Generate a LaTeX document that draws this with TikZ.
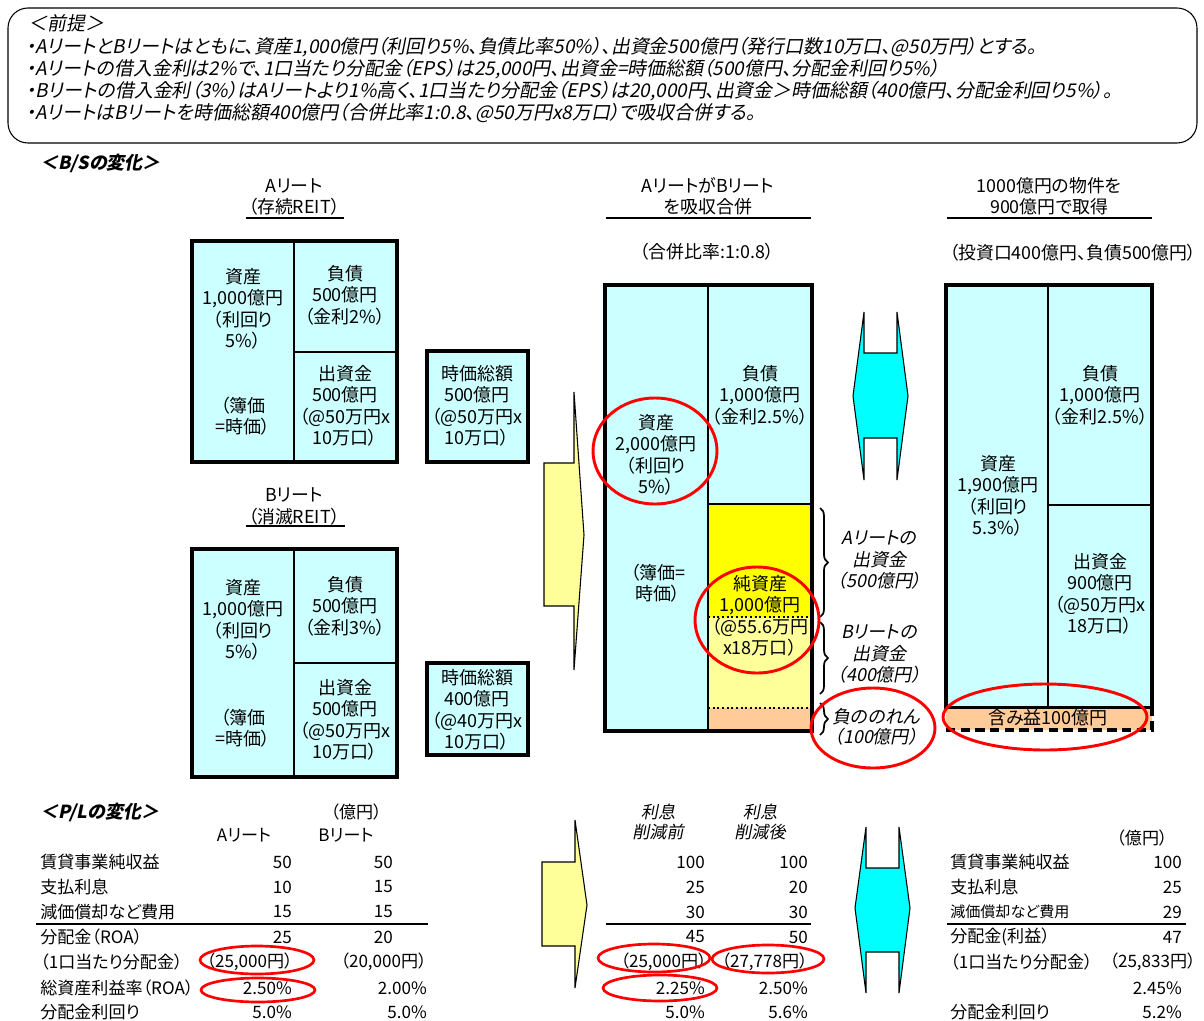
\documentclass[tikz,border=0pt]{standalone}
\usepackage{fontspec}
\setmainfont{Noto Sans CJK JP}[RawFeature=+palt]
\newfontfamily\jpit{Noto Sans CJK JP}[FakeSlant=0.2,RawFeature=+palt]
\usetikzlibrary{decorations.pathreplacing}
\definecolor{lcyan}{HTML}{CCFFFF}
\definecolor{acyan}{HTML}{00FFFF}
\definecolor{yel}{HTML}{FFFF00}
\definecolor{lyel}{HTML}{FFFF99}
\definecolor{peach}{HTML}{FFCC99}
\definecolor{ered}{HTML}{FF0000}
\newcommand\fBS{\fontsize{13.5}{16.1}\selectfont}
\newcommand\fPL{\fontsize{12.8}{15.5}\selectfont}
\newcommand\fTT{\fontsize{13.4}{16.5}\selectfont}
\newcommand\fTOP{\fontsize{14.2}{16}\selectfont\jpit}
\begin{document}
\begin{tikzpicture}[x=0.75pt,y=-0.75pt,
  bs/.style={align=center,font=\fBS,inner sep=0pt},
  bsi/.style={align=center,font=\fBS\jpit,inner sep=0pt},
  tt/.style={align=center,font=\fTT,inner sep=0pt},
  tl/.style={anchor=west,font=\fTOP,inner sep=0pt},
  hd/.style={anchor=west,font=\fBS\jpit\bfseries,inner sep=0pt},
  pl/.style={anchor=west,font=\fPL,inner sep=0pt},
  pr/.style={anchor=east,font=\fPL,inner sep=0pt},
  outerb/.style={line width=3pt},
  innerb/.style={line width=1.5pt},
  redring/.style={draw=ered,line width=2.2pt},
  brc/.style={decorate,decoration={brace,amplitude=6pt},line width=1.3pt},
  yarrow/.style={fill=lyel,draw=black,line width=0.8pt},
  carrow/.style={fill=acyan,draw=black,line width=0.8pt},
  hline/.style={line width=2pt}
]
\useasboundingbox (0,0) rectangle (1204,1021);

% ---------- premise box ----------
\draw[line width=0.8pt,rounded corners=15pt] (8,8) rectangle (1197,143);
\node[tl] (p0) at (28,23) {＜前提＞};
\node[tl] (p1) at (26,47) {・AリートとBリートはともに、資産1,000億円（利回り5\%、負債比率50\%）、出資金500億円（発行口数10万口、@50万円）とする。};
\node[tl] (p2) at (26,69) {・Aリートの借入金利は2\%で、1口当たり分配金（EPS）は25,000円、出資金=時価総額（500億円、分配金利回り5\%）};
\node[tl] (p3) at (26,91) {・Bリートの借入金利（3\%）はAリートより1\%高く、1口当たり分配金（EPS）は20,000円、出資金＞時価総額（400億円、分配金利回り5\%）。};
\node[tl] (p4) at (26,113) {・AリートはBリートを時価総額400億円（合併比率1:0.8、@50万円x8万口）で吸収合併する。};

% ---------- headings ----------
\node[hd] (hbs) at (40,163) {＜B/Sの変化＞};
\node[hd] (hpl) at (40,812) {＜P/Lの変化＞};

% ---------- left titles ----------
\node[tt] (ta1) at (294,186) {Aリート};
\node[tt] (ta2) at (294,207) {（存続REIT）};
\draw[line width=1pt] (246,218) -- (344,218);
\node[tt] (tb1) at (294,495) {Bリート};
\node[tt] (tb2) at (294,517) {（消滅REIT）};
\draw[line width=1pt] (246,526) -- (345,526);

% ---------- A reit B/S ----------
\fill[lcyan] (192,241) rectangle (397,462);
\draw[innerb] (294,241) -- (294,462);
\draw[innerb] (294,352) -- (397,352);
\draw[outerb] (192,241) rectangle (397,462);
\node[bs] (aas) at (243,309) {資産\\1,000億円\\（利回り\\5\%）};
\node[bs] (aab) at (243,416) {（簿価\\=時価）};
\node[bs] (ali) at (345,295) {負債\\500億円\\（金利2\%）};
\node[bs] (aeq) at (345,406) {出資金\\500億円\\（@50万円x\\10万口）};
\fill[lcyan] (427,351) rectangle (528,462);
\draw[outerb] (427,351) rectangle (528,462);
\node[bs] (amc) at (477,406) {時価総額\\500億円\\（@50万円x\\10万口）};

% ---------- B reit B/S ----------
\fill[lcyan] (192,549) rectangle (397,777);
\draw[innerb] (294,549) -- (294,777);
\draw[innerb] (294,663) -- (397,663);
\draw[outerb] (192,549) rectangle (397,777);
\node[bs] (bas) at (243,620) {資産\\1,000億円\\（利回り\\5\%）};
\node[bs] (bab) at (243,728) {（簿価\\=時価）};
\node[bs] (bli) at (345,606) {負債\\500億円\\（金利3\%）};
\node[bs] (beq) at (345,720) {出資金\\500億円\\（@50万円x\\10万口）};
\fill[lcyan] (427,663) rectangle (528,755);
\draw[outerb] (427,663) rectangle (528,755);
\node[bs] (bmc) at (477,710) {時価総額\\400億円\\（@40万円x\\10万口）};

% ---------- yellow arrows ----------
\draw[yarrow] (544,463) -- (574,463) -- (574,392) -- (584,535) -- (574,670) -- (574,606) -- (544,606) -- cycle;
\draw[yarrow] (542,862) -- (575,862) -- (575,820) -- (587,905) -- (575,988) -- (575,946) -- (542,946) -- cycle;

% ---------- merged B/S ----------
\node[tt] (tm1) at (708,185) {AリートがBリート};
\node[tt] (tm2) at (708,207) {を吸収合併};
\draw[line width=1.5pt] (606,218) -- (811,218);
\node[tt] (tm3) at (707,252) {（合併比率:1:0.8）};
\fill[lcyan] (605,285) rectangle (708,731);
\fill[lcyan] (708,285) rectangle (812,504);
\fill[yel] (708,504) rectangle (812,617);
\fill[lyel] (708,617) rectangle (812,708);
\fill[peach] (708,708) rectangle (812,731);
\draw[innerb] (708,285) -- (708,731);
\draw[innerb] (708,504) -- (812,504);
\draw[line width=1.5pt,dotted] (708,617) -- (812,617);
\draw[line width=1.5pt,dotted] (708,708) -- (812,708);
\draw[outerb] (605,285) rectangle (812,731);
\node[bs] (mas) at (656,455) {資産\\2,000億円\\（利回り\\5\%）};
\node[bs] (mab) at (658,583) {（簿価=\\時価）};
\node[bs] (mli) at (760,395) {負債\\1,000億円\\（金利2.5\%）};
\node[bs] (mna) at (760,616) {純資産\\1,000億円\\（@55.6万円\\x18万口）};
\draw[brc] (820,508) -- (820,617);
\draw[brc] (820,622) -- (820,694);
\draw[brc] (820,703) -- (820,735);
\node[bsi] (ba1) at (879,560) {Aリートの\\出資金\\（500億円）};
\node[bsi] (ba2) at (879,654) {Bリートの\\出資金\\（400億円）};
\node[bsi,font=\fontsize{13.5}{15}\selectfont\jpit] (ba3) at (876,727) {負ののれん\\（100億円）};
\draw[redring] (655,451) ellipse [x radius=62,y radius=53];
\draw[redring] (757,620) ellipse [x radius=62,y radius=53];
\draw[redring] (873,728) ellipse [x radius=62,y radius=40];

% ---------- cyan arrows ----------
\draw[carrow] (864,312) -- (864,353) -- (897,353) -- (897,312) -- (908,396) -- (897,480) -- (897,438) -- (864,438) -- (864,480) -- (853,396) -- cycle;
\draw[carrow] (866,827) -- (866,868) -- (899,868) -- (899,827) -- (910,908) -- (899,993) -- (899,952) -- (866,952) -- (866,993) -- (855,908) -- cycle;

% ---------- acquisition B/S ----------
\node[tt] (tr1) at (1049,186) {1000億円の物件を};
\node[tt] (tr2) at (1049,207) {900億円で取得};
\draw[line width=1.5pt] (947,218) -- (1152,218);
\node[tt] (tr3) at (1073,253) {（投資口400億円、負債500億円）};
\fill[lcyan] (946,285) rectangle (1152,708);
\draw[innerb] (1048,285) -- (1048,708);
\draw[innerb] (1048,505) -- (1152,505);
\draw[outerb] (946,285) rectangle (1152,708);
\fill[peach] (946,709) rectangle (1152,730);
\draw[line width=2.5pt,dash pattern=on 7pt off 4pt] (946,730) -- (1152,730) -- (1152,709);
\node[bs] (rli) at (1100,395) {負債\\1,000億円\\（金利2.5\%）};
\node[bs] (ras) at (998,496) {資産\\1,900億円\\（利回り\\5.3\%）};
\node[bs] (req) at (1100,594) {出資金\\900億円\\（@50万円x\\18万口）};
\node[bs] (rgn) at (1048,718) {含み益100億円};
\draw[redring] (1045,717) ellipse [x radius=102,y radius=33];

% ---------- P/L left ----------
\node[pr] (lu) at (382,812) {（億円）};
\node[anchor=center,font=\fPL,inner sep=0pt] (lha) at (244,835) {Aリート};
\node[anchor=center,font=\fPL,inner sep=0pt] (lhb) at (346,835) {Bリート};
\node[pl] (l1) at (40,862) {賃貸事業純収益};
\node[pl] (l2) at (40,887) {支払利息};
\node[pl] (l3) at (40,912) {減価償却など費用};
\node[pl] (l4) at (40,937) {分配金（ROA）};
\node[pl] (l5) at (40,962) {（1口当たり分配金）};
\node[pl] (l6) at (40,988) {総資産利益率（ROA）};
\node[pl] (l7) at (40,1012) {分配金利回り};
\draw[hline] (36,924) -- (428,924);
\node[pr] (a1) at (292,862) {50};
\node[pr] (a2) at (292,887) {10};
\node[pr] (a3) at (292,912) {15};
\node[pr] (a4) at (292,937) {25};
\node[pr] (a5) at (293,962) {（25,000円）};
\node[pr] (a6) at (292,988) {2.50\%};
\node[pr] (a7) at (292,1012) {5.0\%};
\node[pr] (b1) at (393,862) {50};
\node[pr] (b2) at (393,887) {15};
\node[pr] (b3) at (393,912) {15};
\node[pr] (b4) at (393,937) {20};
\node[pr] (b5) at (427,962) {（20,000円）};
\node[pr] (b6) at (427,988) {2.00\%};
\node[pr] (b7) at (427,1012) {5.0\%};
\draw[redring,line width=2pt] (257,960) ellipse [x radius=57,y radius=14];
\draw[redring,line width=2pt] (258,990) ellipse [x radius=57,y radius=12];

% ---------- P/L middle ----------
\node[align=center,font=\fPL\jpit,inner sep=0pt] (mh1) at (658,822) {利息\\削減前};
\node[align=center,font=\fPL\jpit,inner sep=0pt] (mh2) at (760,822) {利息\\削減後};
\draw[hline] (606,924) -- (811,924);
\node[pr] (c1) at (705,862) {100};
\node[pr] (c2) at (705,887) {25};
\node[pr] (c3) at (705,912) {30};
\node[pr] (c4) at (705,937) {45};
\node[pr] (c5) at (707,962) {（25,000円）};
\node[pr] (c6) at (705,988) {2.25\%};
\node[pr] (c7) at (705,1012) {5.0\%};
\node[pr] (d1) at (808,862) {100};
\node[pr] (d2) at (808,887) {20};
\node[pr] (d3) at (808,912) {30};
\node[pr] (d4) at (808,937) {50};
\node[pr] (d5) at (808,962) {（27,778円）};
\node[pr] (d6) at (808,988) {2.50\%};
\node[pr] (d7) at (808,1012) {5.6\%};
\draw[redring,line width=2pt] (654,958) ellipse [x radius=56,y radius=14];
\draw[redring,line width=2pt] (768,959) ellipse [x radius=56,y radius=14];
\draw[redring,line width=2pt] (660,988) ellipse [x radius=57,y radius=13];

% ---------- P/L right ----------
\node[anchor=center,font=\fPL,inner sep=0pt] (ru) at (1142,838) {（億円）};
\node[pl] (r1) at (950,862) {賃貸事業純収益};
\node[pl] (r2) at (950,887) {支払利息};
\node[pl,font=\fontsize{11.3}{13}\selectfont] (r3) at (950,912) {減価償却など費用};
\node[pl] (r4) at (950,937) {分配金(利益）};
\node[pl] (r5) at (950,962) {（1口当たり分配金）};
\node[pl] (r7) at (950,1012) {分配金利回り};
\draw[hline] (947,924) -- (1186,924);
\node[pr] (e1) at (1182,862) {100};
\node[pr] (e2) at (1182,887) {25};
\node[pr] (e3) at (1182,912) {29};
\node[pr] (e4) at (1182,937) {47};
\node[pr] (e5) at (1196,962) {（25,833円）};
\node[pr] (e6) at (1182,988) {2.45\%};
\node[pr] (e7) at (1182,1012) {5.2\%};
\end{tikzpicture}
\end{document}
